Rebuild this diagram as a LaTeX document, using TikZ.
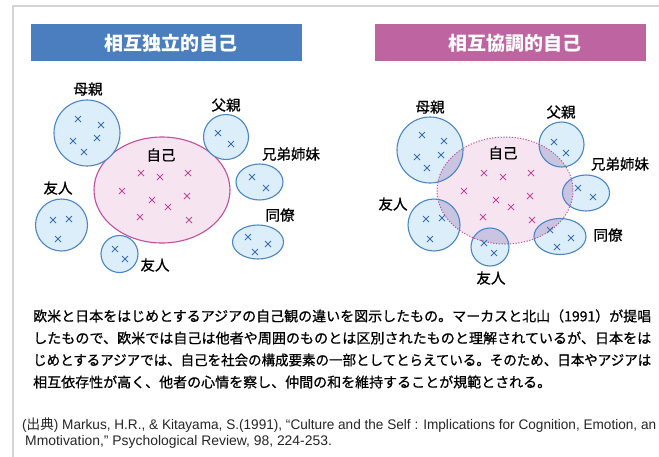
\documentclass[tikz,border=0pt]{standalone}
\usepackage{fontspec}
\usepackage{graphicx}
\setmainfont{Liberation Sans}
\newfontfamily\jp{Noto Sans CJK JP}
\newfontfamily\jpm[FakeBold=0.7]{Noto Sans CJK JP}
\definecolor{bluebar}{HTML}{4A7EBE}
\definecolor{pinkbar}{HTML}{BE64A0}
\definecolor{cfill}{HTML}{DCEEFA}
\definecolor{cline}{HTML}{4A86C6}
\definecolor{bcross}{HTML}{3A6EB4}
\definecolor{sfill}{HTML}{F6E4F0}
\definecolor{sline}{HTML}{C2509C}
\definecolor{scross}{HTML}{C04A98}
\definecolor{ovl}{HTML}{C9C5E0}
\definecolor{framec}{HTML}{D4D4D4}
\tikzset{
  xmk/.pic={\draw (-3,-3) -- (3,3) (-3,3) -- (3,-3);},
  bx/.style={color=bcross, line width=0.8pt},
  px/.style={color=scross, line width=0.8pt},
  other/.style={fill=cfill, draw=cline, line width=1.1pt},
  lbl/.style={font=\jpm\fontsize{14.5}{16}\selectfont, text=black, inner sep=0pt},
  ttl/.style={font=\jp\bfseries\fontsize{19}{21}\selectfont, text=white, inner sep=0pt},
  para/.style={font=\jpm\fontsize{14}{16}\selectfont, anchor=west, inner sep=0pt},
  cite/.style={font=\fontsize{13.9}{15}\selectfont, anchor=west, inner sep=0pt, text=black!85}
}
\begin{document}
\begin{tikzpicture}[x=1pt,y=-1pt]
\useasboundingbox (0,0) rectangle (659,456);
\clip (0,0) rectangle (659,456);
\fill[white] (0,0) rectangle (659,456);
\draw[framec, line width=1.2pt] (13,470) -- (13,6) -- (670,6);

% title bars
\fill[bluebar] (31,24) rectangle (302,61);
\node[ttl] (t1) at (171,43) {相互独立的自己};
\fill[pinkbar] (375,24) rectangle (646,61);
\node[ttl] (t2) at (515,43) {相互協調的自己};

% ===== left diagram =====
\fill[sfill] (162,190) ellipse [x radius=68, y radius=53];
\draw[sline, line width=1.1pt] (162,190) ellipse [x radius=68, y radius=53];
\draw[other] (87,133) circle [radius=33];
\draw[other] (226,137) circle [radius=22.5];
\draw[other] (259.5,182) ellipse [x radius=23.5, y radius=18];
\draw[other] (258,242) ellipse [x radius=25.5, y radius=17];
\draw[other] (61.5,225) circle [radius=26];
\draw[other] (119.5,254) circle [radius=18.5];

\foreach \p in {(78,119),(101,125),(73,141),(97,138),(84,152),
  (218,133),(231,144),(252,177),(266,188),(248,237),(268,244),(255,252),
  (53,220),(69,219),(58,239),(115,249),(125,259)}
  \pic[bx] at \p {xmk};
\foreach \p in {(141,173),(160,177),(188,173),(122,191),(152,200),(168,207),(187,196),(140,217),(189,220)}
  \pic[px] at \p {xmk};

\node[lbl] (l-mo) at (88,89) {母親};
\node[lbl] (l-self) at (161,155) {自己};
\node[lbl] (l-fa) at (226,105) {父親};
\node[lbl] (l-sib) at (291,154) {兄弟姉妹};
\node[lbl] (l-col) at (280,215) {同僚};
\node[lbl] (l-fr1) at (58,188) {友人};
\node[lbl] (l-fr2) at (155,265) {友人};

% ===== right diagram =====
\fill[sfill] (505,190.5) ellipse [x radius=68, y radius=53.5];
\fill[cfill] (430,150) circle [radius=33];
\fill[cfill] (561.5,144.5) circle [radius=22.5];
\fill[cfill] (586,193) ellipse [x radius=23.5, y radius=18];
\fill[cfill] (560,236.5) ellipse [x radius=26, y radius=18];
\fill[cfill] (434,225) circle [radius=26];
\fill[cfill] (490,247) circle [radius=19];
\begin{scope}
  \clip (505,190.5) ellipse [x radius=68, y radius=53.5];
  \fill[ovl] (430,150) circle [radius=33];
  \fill[ovl] (561.5,144.5) circle [radius=22.5];
  \fill[ovl] (586,193) ellipse [x radius=23.5, y radius=18];
  \fill[ovl] (560,236.5) ellipse [x radius=26, y radius=18];
  \fill[ovl] (434,225) circle [radius=26];
  \fill[ovl] (490,247) circle [radius=19];
\end{scope}
\begin{scope}[draw=cline, line width=1.1pt]
  \draw (430,150) circle [radius=33];
  \draw (561.5,144.5) circle [radius=22.5];
  \draw (586,193) ellipse [x radius=23.5, y radius=18];
  \draw (560,236.5) ellipse [x radius=26, y radius=18];
  \draw (434,225) circle [radius=26];
  \draw (490,247) circle [radius=19];
\end{scope}
\draw[sline, line width=1pt, dash pattern=on 1.2pt off 1.6pt] (505,190.5) ellipse [x radius=68, y radius=53.5];

\foreach \p in {(422,135),(444,141),(417,157),(441,155),(427,168),
  (554,142),(566,153),(578,188),(593,197),(550,230),(571,238),(557,247),
  (426,219),(442,218),(430,239),(484,243),(494,253)}
  \pic[bx] at \p {xmk};
\foreach \p in {(484,173),(503,177),(531,173),(464,191),(496,200),(511,207),(530,196),(483,217),(532,220)}
  \pic[px] at \p {xmk};

\node[lbl] (r-mo) at (430,107) {母親};
\node[lbl] (r-self) at (503,153) {自己};
\node[lbl] (r-fa) at (561,112) {父親};
\node[lbl] (r-sib) at (620,164) {兄弟姉妹};
\node[lbl] (r-col) at (608,235) {同僚};
\node[lbl] (r-fr1) at (393,204) {友人};
\node[lbl] (r-fr2) at (491,278) {友人};

% ===== text =====
\node[para] (p1) at (33,316) {\resizebox{618pt}{\height}{欧米と日本をはじめとするアジアの自己観の違いを図示したもの。マーカスと北山（1991）が提唱}};
\node[para] (p2) at (33,338) {\resizebox{618pt}{\height}{したもので、欧米では自己は他者や周囲のものとは区別されたものと理解されているが、日本をは}};
\node[para] (p3) at (33,360) {\resizebox{618pt}{\height}{じめとするアジアでは、自己を社会の構成要素の一部としてとらえている。そのため、日本やアジアは}};
\node[para] (p4) at (33,382) {相互依存性が高く、他者の心情を察し、仲間の和を維持することが規範とされる。};

\node[cite] (c1) at (22,425) {\resizebox{634pt}{\height}{({\jp 出典}) Markus, H.R., \& Kitayama, S.(1991), “Culture and the Self : Implications for Cognition, Emotion, an}};
\node[cite] (c2) at (25,442) {Mmotivation,” Psychological Review, 98, 224-253.};
\end{tikzpicture}
\end{document}
